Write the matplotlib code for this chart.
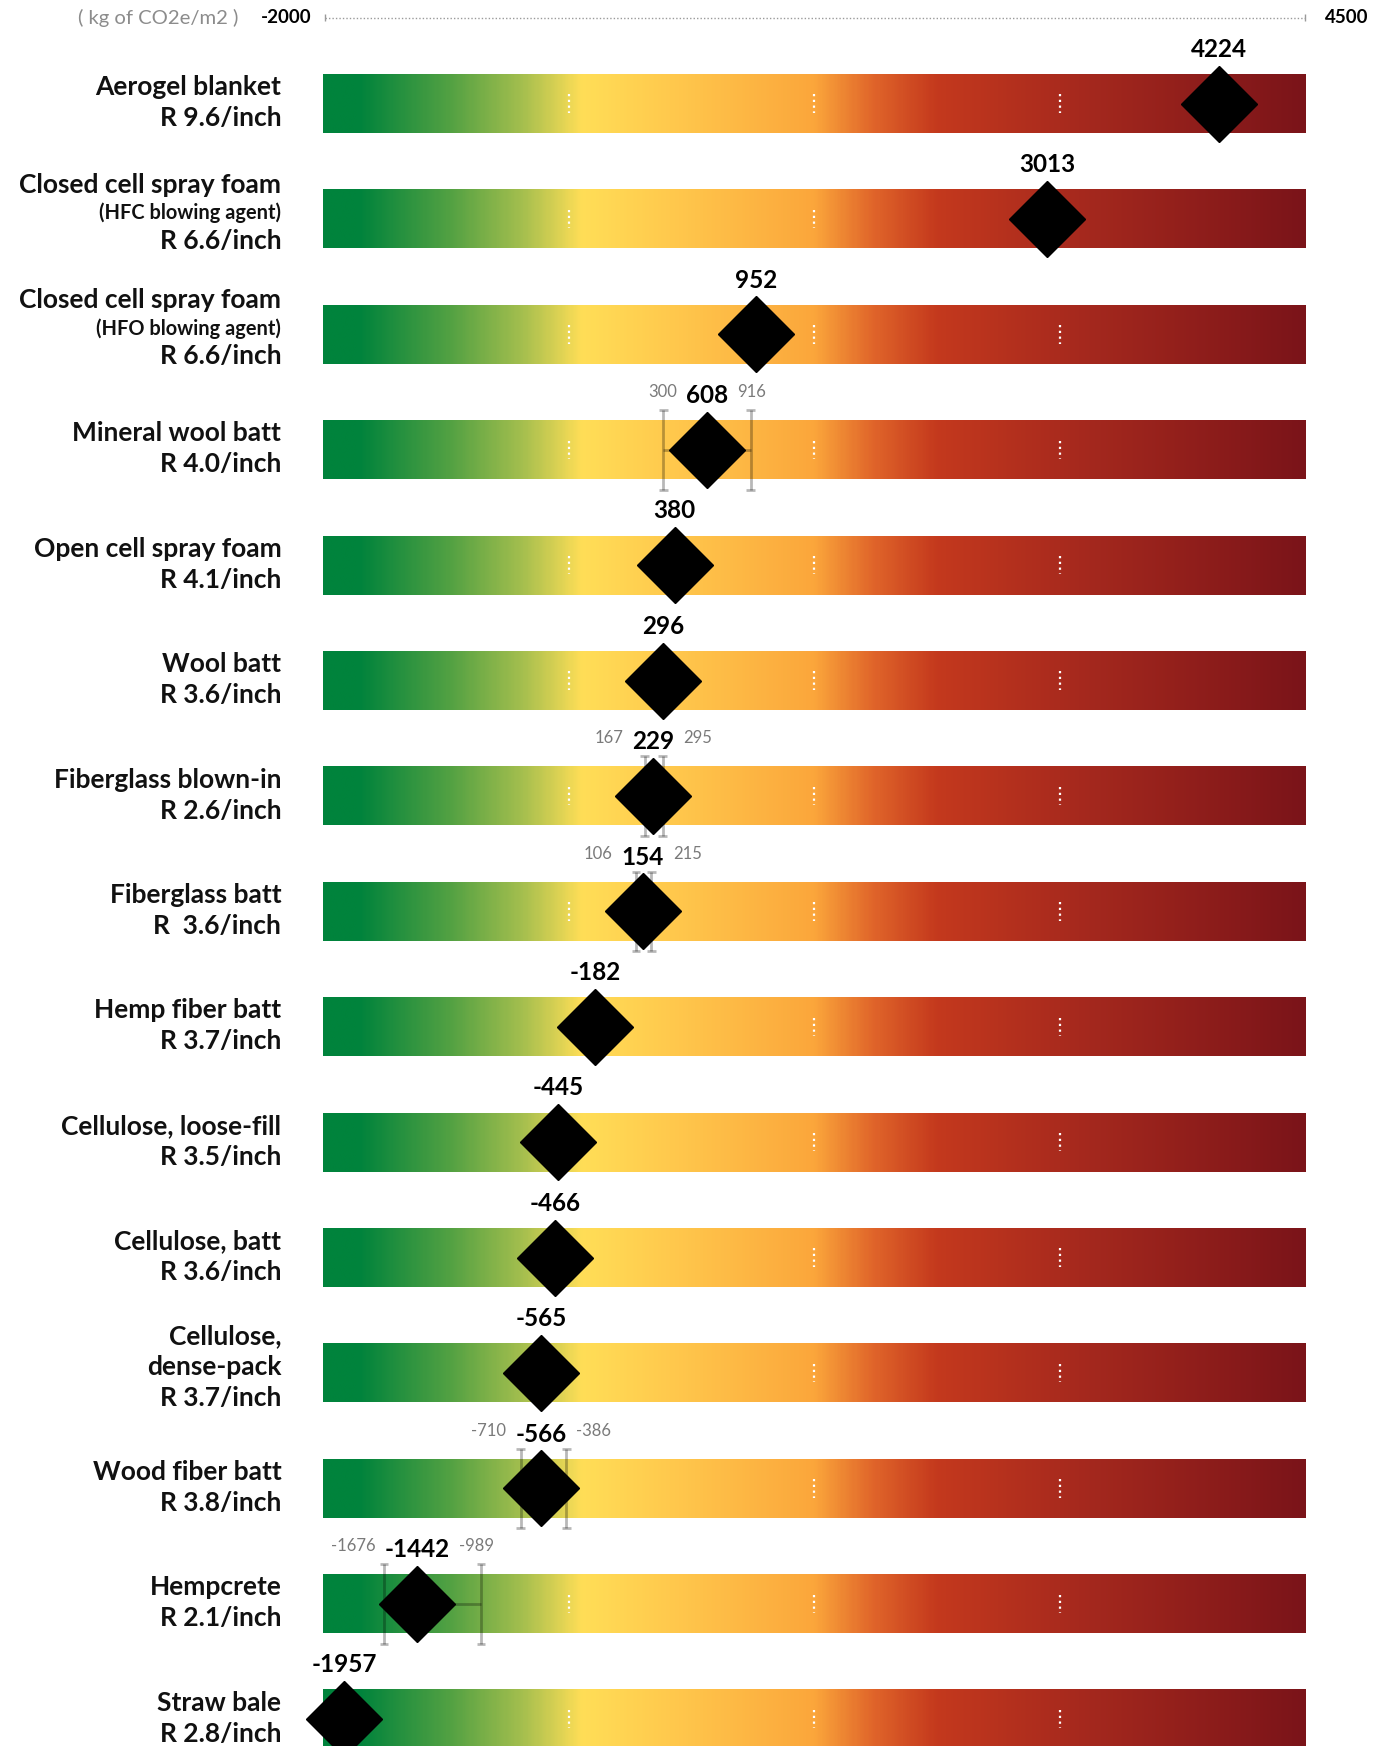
import numpy as np
import matplotlib
matplotlib.use("Agg")
import matplotlib.pyplot as plt
from matplotlib.colors import LinearSegmentedColormap
import matplotlib.transforms as mtransforms

plt.rcParams['font.family'] = ['Lato', 'DejaVu Sans']

# data
materials = [
    "Aerogel blanket\nR 9.6/inch",
    "Closed cell spray foam\n(HFC blowing agent)\nR 6.6/inch",
    "Closed cell spray foam\n(HFO blowing agent)\nR 6.6/inch",
    "Mineral wool batt\nR 4.0/inch",
    "Open cell spray foam\nR 4.1/inch",
    "Wool batt\nR 3.6/inch",
    "Fiberglass blown-in\nR 2.6/inch",
    "Fiberglass batt\nR  3.6/inch",
    "Hemp fiber batt\nR 3.7/inch",
    "Cellulose, loose-fill\nR 3.5/inch",
    "Cellulose, batt\nR 3.6/inch",
    "Cellulose,\ndense-pack\nR 3.7/inch",
    "Wood fiber batt\nR 3.8/inch",
    "Hempcrete\nR 2.1/inch",
    "Straw bale\nR 2.8/inch",
]
values = [4224, 3013, 952, 608, 380, 296, 229, 154, -182, -445, -466, -565, -566, -1442, -1957]
low = [None, None, None, 300, None, None, 167, 106, None, None, None, None, -710, -1676, None]
high = [None, None, None, 916, None, None, 295, 215, None, None, None, None, -386, -989, None]
axis_min, axis_max = -2000, 4500
unit_label = "( kg of CO2e/m2 )"

# layout (value units on x, row index on y)
BAR_LO, BAR_HI = -2106, 4838
BAR_H = 0.51

fig = plt.figure(figsize=(13.89, 17.46), dpi=100)
ax = fig.add_axes([0, 0, 1, 1])
ax.set_xlim(-4390, 5429)
ax.set_ylim(14.232, -0.898)
ax.axis('off')

cmap = LinearSegmentedColormap.from_list("co2", [
    (0.0, "#00833c"), (0.035, "#00833c"), (0.13, "#55a243"), (0.20, "#a3be4e"),
    (0.262, "#ffde57"), (0.37, "#ffc54b"), (0.50, "#fba63b"), (0.56, "#e0652a"),
    (0.625, "#c4391d"), (0.75, "#aa2b1e"), (1.0, "#7b1419")])
grad = np.linspace(0, 1, 600)[None, :]

label_x = mtransforms.blended_transform_factory(ax.transAxes, ax.transData)

for i, (name, v) in enumerate(zip(materials, values)):
    # gradient bar
    ax.imshow(grad, cmap=cmap, aspect='auto', interpolation='bicubic',
              extent=[BAR_LO, BAR_HI, i + BAR_H / 2, i - BAR_H / 2], zorder=1)
    # white dotted quarter marks
    qs = [BAR_LO + k * (BAR_HI - BAR_LO) / 4 for k in (1, 2, 3)]
    ax.vlines(qs, i - 0.08, i + 0.08, colors='white', lw=1.6,
              linestyles=(0, (1, 1.6)), zorder=2)

    # error range
    if low[i] is not None:
        c = dict(colors='black', alpha=0.28, lw=2, zorder=3)
        ax.hlines(i, low[i], high[i], **c)
        ax.vlines([low[i], high[i]], i - 0.345, i + 0.345, **c)
        for e in (low[i], high[i]):
            ax.hlines([i - 0.345, i + 0.345], e - 30, e + 30, **c)

    # diamond
    ax.plot([v], [i], marker='D', ms=39, color='black', ls='none', zorder=4)

    # value label
    t = ax.annotate(f"{v}", xy=(v, i - BAR_H / 2), xytext=(0, 12.5),
                    textcoords='offset points', ha='center', va='baseline',
                    fontsize=17.5, fontweight='bold', color='black', zorder=5)
    if low[i] is not None:
        ax.annotate(f"{low[i]}", xy=(0, 1), xycoords=t, xytext=(-6.5, 0),
                    textcoords='offset points', ha='right', va='top',
                    fontsize=12, color='#7a7a7a')
        ax.annotate(f"{high[i]}", xy=(1, 1), xycoords=t, xytext=(6.5, 0),
                    textcoords='offset points', ha='left', va='top',
                    fontsize=12, color='#7a7a7a')

    # category label: big lines 31 px tall, small (bracketed) lines 25 px
    lines = name.split("\n")
    heights = [25 if ln.startswith("(") else 31 for ln in lines]
    pos = [0.0]
    for k in range(1, len(lines)):
        pos.append(pos[-1] + (heights[k - 1] + heights[k]) / 2)
    mid = pos[-1] / 2
    shift = -1 if len(lines) == 2 else -6
    for line, p, h in zip(lines, pos, heights):
        off_px = p - mid + shift
        ax.annotate(line, xy=(0.2025, i), xycoords=label_x,
                    xytext=(0, -off_px * 0.72), textcoords='offset points',
                    ha='right', va='center', fontsize=14.4 if h == 25 else 19,
                    fontweight='bold', color='#111111')

# top scale line
y_axis = -0.743
ax.plot([BAR_LO + 16, BAR_HI], [y_axis, y_axis], color='#9a9a9a', lw=1,
        ls=(0, (1, 1.5)))
ax.vlines([BAR_LO + 16, BAR_HI], y_axis - 0.03, y_axis + 0.03, colors='#9a9a9a', lw=1)
tmin = ax.annotate(f"{axis_min}", xy=(BAR_LO + 16, y_axis), xytext=(-10, 0),
                   textcoords='offset points', ha='right', va='center',
                   fontsize=13.5, fontweight='bold')
ax.annotate(f"{axis_max}", xy=(BAR_HI, y_axis), xytext=(14, 0),
            textcoords='offset points', ha='left', va='center',
            fontsize=13.5, fontweight='bold')
ax.annotate(unit_label, xy=(0, 0.5), xycoords=tmin, xytext=(-16, 0),
            textcoords='offset points', ha='right', va='center',
            fontsize=14.6, color='#8c8c8c')

fig.savefig("out.png", dpi=100)
